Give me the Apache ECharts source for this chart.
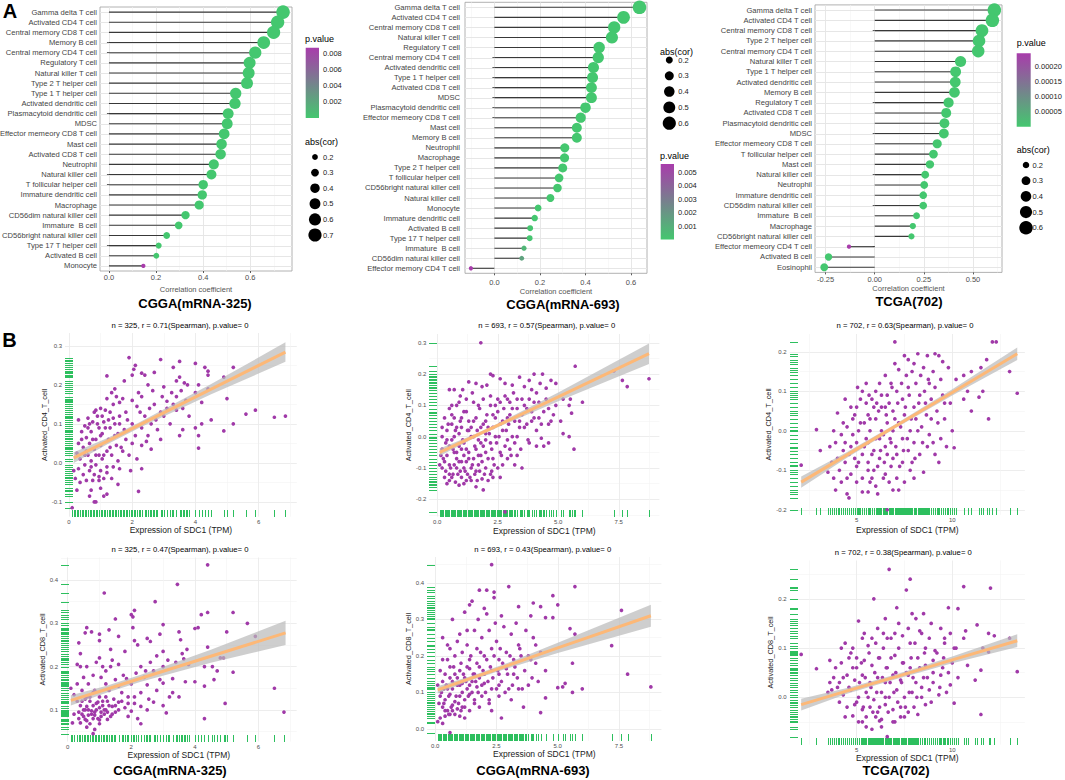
<!DOCTYPE html>
<html>
<head>
<meta charset="utf-8">
<title>SDC1 immune infiltration</title>
<script src="https://cdn.jsdelivr.net/npm/echarts@6/dist/echarts.min.js"></script>
<style>
html,body{margin:0;padding:0;background:#fff;}
#chart{width:1065px;height:780px;}
</style>
</head>
<body>
<div id="chart"></div>
<script>
(function() {
	'use strict';

	var FONT = '"Liberation Sans", Arial, sans-serif';
	var GREEN = '#44C76F', PURPLE = '#A83CAB', DOT = '#A039A8', RUG = '#2DBF5E', FIT = '#FDB877', BAND = '#B9B9B9';

	/* ---- A: lollipop data ---- */
	var cellsL = ['Gamma delta T cell', 'Activated CD4 T cell', 'Central memory CD8 T cell', 'Memory B cell', 'Central memory CD4 T cell', 'Regulatory T cell', 'Natural killer T cell', 'Type 2 T helper cell', 'Type 1 T helper cell', 'Activated dendritic cell', 'Plasmacytoid dendritic cell', 'MDSC', 'Effector memeory CD8 T cell', 'Mast cell', 'Activated CD8 T cell', 'Neutrophil', 'Natural killer cell', 'T follicular helper cell', 'Immature dendritic cell', 'Macrophage', 'CD56dim natural killer cell', 'Immature  B cell', 'CD56bright natural killer cell', 'Type 17 T helper cell', 'Activated B cell', 'Monocyte'];
	var corL = [0.739, 0.716, 0.699, 0.657, 0.621, 0.597, 0.593, 0.586, 0.538, 0.535, 0.506, 0.502, 0.489, 0.478, 0.474, 0.445, 0.435, 0.400, 0.396, 0.383, 0.325, 0.296, 0.245, 0.211, 0.201, 0.146];
	var pL = [0, 0, 0, 0, 0, 0, 0, 0, 0, 0, 0, 0, 0, 0, 0, 0, 0, 0, 0, 0, 0, 0, 0, 0.00001, 0.00002, 0.0087];

	var cellsM = ['Gamma delta T cell', 'Activated CD4 T cell', 'Central memory CD8 T cell', 'Natural killer T cell', 'Regulatory T cell', 'Central memory CD4 T cell', 'Activated dendritic cell', 'Type 1 T helper cell', 'Activated CD8 T cell', 'MDSC', 'Plasmacytoid dendritic cell', 'Effector memeory CD8 T cell', 'Mast cell', 'Memory B cell', 'Neutrophil', 'Macrophage', 'Type 2 T helper cell', 'T follicular helper cell', 'CD56bright natural killer cell', 'Natural killer cell', 'Monocyte', 'Immature dendritic cell', 'Activated B cell', 'Type 17 T helper cell', 'Immature  B cell', 'CD56dim natural killer cell', 'Effector memory CD4 T cell'];
	var corM = [0.637, 0.567, 0.526, 0.516, 0.460, 0.456, 0.435, 0.431, 0.426, 0.426, 0.400, 0.379, 0.362, 0.362, 0.309, 0.308, 0.300, 0.284, 0.277, 0.246, 0.192, 0.177, 0.157, 0.155, 0.130, 0.120, -0.103];
	var pM = [0, 0, 0, 0, 0, 0, 0, 0, 0, 0, 0, 0, 0, 0, 0, 0, 0, 0, 0, 0, 0, 0, 0.0001, 0.0001, 0.0007, 0.0015, 0.0056];

	var cellsR = ['Gamma delta T cell', 'Activated CD4 T cell', 'Central memory CD8 T cell', 'Type 2 T helper cell', 'Central memory CD4 T cell', 'Natural killer T cell', 'Type 1 T helper cell', 'Activated dendritic cell', 'Memory B cell', 'Regulatory T cell', 'Activated CD8 T cell', 'Plasmacytoid dendritic cell', 'MDSC', 'Effector memeory CD8 T cell', 'T follicular helper cell', 'Mast cell', 'Natural killer cell', 'Neutrophil', 'Immature dendritic cell', 'CD56dim natural killer cell', 'Immature  B cell', 'Macrophage', 'CD56bright natural killer cell', 'Effector memeory CD4 T cell', 'Activated B cell', 'Eosinophil'];
	var corR = [0.609, 0.599, 0.546, 0.531, 0.527, 0.437, 0.412, 0.410, 0.406, 0.376, 0.364, 0.355, 0.352, 0.318, 0.299, 0.281, 0.257, 0.252, 0.247, 0.247, 0.213, 0.194, 0.187, -0.131, -0.235, -0.257];
	var pR = [0, 0, 0, 0, 0, 0, 0, 0, 0, 0, 0, 0, 0, 0, 0, 0, 0, 0, 0, 0, 0, 0, 0, 0.000242, 0, 0];

	var sizeKeysL = [0.2, 0.3, 0.4, 0.5, 0.6, 0.7];
	var sizeKeysM = [0.2, 0.3, 0.4, 0.5, 0.6];
	var sizeKeysR = [0.2, 0.3, 0.4, 0.5, 0.6];
	var pTicksL = [0.002, 0.004, 0.006, 0.008];
	var pTicksM = [0.001, 0.002, 0.003, 0.004, 0.005];
	var pTicksR = [0.00005, 0.00010, 0.00015, 0.00020];

	/* ---- B: scatter data (SDC1 TPM, immune score) ---- */
	var ptsCD4a = [[1.9,0.27],[2.9,0.265],[3.5,0.26],[4.0,0.255],[2.1,0.25],[2.05,0.24],[4.3,0.245],[5.2,0.245],[4.4,0.235],[3.3,0.245],[2.3,0.23],[2.7,0.232],[2.4,0.225],[1.2,0.223],[4.4,0.225],[3.5,0.22],[2.0,0.225],[4.9,0.22],[1.75,0.21],[3.4,0.21],[3.65,0.205],[2.5,0.2],[4.1,0.2],[3.0,0.195],[3.75,0.2],[1.45,0.19],[4.4,0.19],[1.35,0.18],[2.2,0.18],[3.55,0.185],[4.0,0.18],[2.65,0.185],[3.25,0.18],[1.5,0.17],[2.3,0.17],[2.95,0.17],[3.4,0.17],[5.0,0.165],[1.7,0.165],[1.2,0.165],[1.6,0.155],[2.0,0.16],[3.1,0.158],[3.7,0.16],[4.2,0.155],[2.7,0.15],[1.4,0.15],[2.15,0.145],[3.6,0.14],[1.0,0.14],[0.85,0.135],[1.15,0.135],[1.3,0.13],[1.8,0.13],[2.9,0.13],[3.4,0.135],[5.9,0.135],[5.6,0.125],[6.5,0.117],[6.85,0.12],[0.6,0.115],[0.9,0.12],[1.6,0.12],[2.4,0.12],[3.0,0.12],[3.8,0.12],[4.5,0.11],[0.3,0.11],[0.75,0.105],[1.1,0.105],[1.45,0.1],[2.0,0.1],[2.6,0.1],[3.2,0.1],[4.2,0.1],[5.2,0.1],[4.0,0.09],[0.5,0.095],[0.95,0.09],[1.3,0.09],[1.75,0.085],[2.3,0.09],[2.8,0.085],[3.6,0.085],[4.9,0.082],[0.4,0.08],[0.7,0.08],[1.05,0.075],[1.55,0.075],[2.1,0.07],[2.5,0.07],[3.5,0.07],[4.1,0.07],[0.55,0.065],[0.85,0.06],[1.25,0.06],[1.8,0.06],[2.45,0.055],[2.9,0.06],[0.3,0.05],[0.65,0.05],[1.0,0.045],[1.5,0.045],[2.0,0.05],[2.3,0.045],[0.45,0.04],[0.8,0.035],[1.2,0.03],[1.7,0.03],[2.6,0.035],[4.1,0.038],[0.25,0.025],[0.6,0.02],[0.95,0.02],[1.35,0.02],[1.9,0.02],[0.35,0.01],[0.7,0.005],[1.05,0.01],[1.55,0.005],[2.15,0.01],[0.5,-0.005],[0.85,-0.005],[1.2,-0.01],[0.3,-0.015],[0.65,-0.02],[1.0,-0.02],[1.6,-0.015],[2.3,-0.015],[0.15,-0.02],[1.95,-0.02],[0.45,-0.03],[0.8,-0.03],[1.1,-0.04],[0.55,-0.045],[0.95,-0.045],[0.2,-0.04],[0.75,-0.045],[1.35,-0.04],[1.55,-0.055],[0.25,-0.07],[0.7,-0.07],[1.0,-0.065],[1.2,-0.08],[0.65,-0.085],[1.1,-0.085],[2.2,-0.073],[0.8,-0.1],[0.85,-0.1],[0.1,-0.115],
		[0.4,0.06],[0.55,0.03],[0.6,0.09],[0.7,-0.01],[0.75,0.06],[0.85,0.02],[0.9,0.1],[0.95,-0.035],[1.0,0.07],[1.1,0.02],[1.15,0.09],[1.2,-0.025],[1.25,0.11],[1.3,0.04],[1.4,-0.01],[1.45,0.07],[1.6,0.1],[1.65,0.04],[1.85,0.11],[2.25,0.13],[0.35,-0.05],[0.5,0.02],[0.65,0.1],[1.05,0.12],[1.4,0.115],[0.8,0.13],[2.55,0.14],[2.75,0.11],[3.1,0.14],[3.3,0.15]];
	var ptsCD4b = [[1.8,0.30],[5.7,0.225],[7.3,0.21],[7.65,0.18],[7.85,0.16],[8.75,0.185],[6.0,0.11],[5.5,0.12],[5.2,0.12],[5.45,0.1],[5.55,0.075],[5.1,0.05],[5.2,0.01],[5.45,0.0],[5.65,-0.04],[4.6,-0.02],[4.3,-0.005],[3.5,-0.1],[3.2,-0.09],[2.8,-0.24],[2.6,-0.13],[2.3,-0.13],[1.6,-0.16],[1.9,-0.17],[1.2,-0.14],[0.9,-0.155],[0.5,-0.12],[0.1,-0.09],[0.4,-0.15],[2.2,0.2],[2.3,0.195],[2.6,0.185],[2.8,0.17],[3.1,0.165],[3.4,0.19],[3.8,0.18],[4.0,0.2],[4.25,0.17],[4.5,0.155],[4.7,0.18],[4.9,0.17],[4.35,0.2],[1.3,0.175],[1.6,0.17],[0.7,0.15],[0.5,0.15],[1.05,0.15],[1.85,0.16],[2.05,0.165],[3.6,0.16],[3.9,0.15],[4.1,0.14],[0.5,0.09],[0.9,0.11],[1.2,0.12],[1.5,0.11],[1.9,0.12],[2.2,0.13],[2.5,0.12],[2.8,0.13],[3.0,0.11],[3.3,0.12],[3.6,0.1],[3.8,0.12],[4.2,0.11],[4.6,0.09],[4.9,0.1],[0.8,0.1],[1.7,0.1],[2.4,0.1],[3.1,0.09],[3.9,0.08],[4.4,0.08],[4.8,0.07],[0.3,0.06],[0.6,0.04],[1.0,0.06],[1.3,0.05],[1.6,0.06],[2.0,0.05],[2.3,0.07],[2.6,0.04],[2.9,0.06],[3.2,0.05],[3.5,0.07],[3.7,0.04],[4.0,0.06],[4.3,0.04],[0.8,0.03],[1.8,0.03],[2.7,0.02],[3.4,0.03],[4.1,0.02],[4.7,0.05],[0.2,0.0],[0.4,0.02],[0.6,-0.01],[0.9,0.01],[1.1,-0.02],[1.3,0.02],[1.5,0.0],[1.7,-0.01],[2.0,0.01],[2.2,-0.02],[2.4,0.0],[2.9,-0.01],[3.3,0.0],[3.8,-0.02],[4.4,-0.03],[0.7,0.0],[1.0,0.03],[1.4,0.03],[2.1,0.03],[1.9,-0.03],[3.0,-0.04],[0.2,-0.04],[0.4,-0.06],[0.5,-0.03],[0.7,-0.05],[0.8,-0.07],[1.0,-0.04],[1.1,-0.06],[1.3,-0.05],[1.5,-0.07],[1.6,-0.04],[1.8,-0.06],[2.0,-0.05],[2.3,-0.07],[2.6,-0.05],[2.9,-0.07],[3.3,-0.06],[0.3,-0.08],[0.9,-0.08],[1.2,-0.08],[1.7,-0.09],[0.2,-0.1],[0.35,-0.11],[0.5,-0.09],[0.65,-0.12],[0.8,-0.1],[0.95,-0.11],[1.1,-0.1],[1.25,-0.12],[1.4,-0.1],[1.55,-0.12],[1.75,-0.11],[2.0,-0.1],[2.2,-0.12],[2.5,-0.1],[0.6,-0.13],[1.0,-0.13],[1.4,-0.14],[0.75,-0.145],[1.85,-0.135],[2.1,-0.14],
		[0.25,-0.07],[0.35,-0.02],[0.45,0.04],[0.55,-0.1],[0.6,0.07],[0.65,-0.04],[0.7,-0.09],[0.75,0.02],[0.85,-0.12],[0.9,-0.03],[0.95,0.05],[1.0,-0.08],[1.05,-0.01],[1.1,0.08],[1.15,-0.11],[1.2,-0.04],[1.25,0.02],[1.3,-0.07],[1.35,-0.13],[1.4,0.0],[1.45,-0.09],[1.5,0.05],[1.55,-0.03],[1.6,-0.11],[1.65,0.02],[1.7,-0.06],[1.75,0.09],[1.8,-0.02],[1.85,-0.08],[1.9,0.04],[1.95,-0.12],[2.0,-0.01],[2.05,0.07],[2.1,-0.07],[2.15,0.01],[2.2,0.1],[2.25,-0.04],[2.3,0.03],[2.35,-0.09],[2.4,0.06],[2.45,-0.02],[2.5,0.08],[2.55,0.0],[2.6,0.11],[2.65,-0.06],[2.7,0.05],[2.75,0.09],[2.8,-0.03],[2.85,0.02],[2.9,0.12],[2.95,0.04],[3.0,0.07],[3.1,0.0],[3.15,0.14],[3.2,-0.02],[3.3,0.09],[3.4,0.05],[3.45,-0.04],[3.5,0.12],[3.6,0.03],[3.7,0.09],[3.75,-0.01],[3.9,0.05],[4.0,0.11],[4.1,-0.03],[4.2,0.06],[4.5,0.12],[4.6,0.04],[0.3,-0.13],[0.5,-0.14],[0.8,-0.05],[1.1,-0.15],[0.4,-0.01],[0.6,0.1],[0.95,0.13],[1.45,0.14],[1.2,0.08],[0.7,0.06],[1.65,-0.14],[2.25,-0.11],[2.7,-0.09],[3.05,-0.06],[0.15,-0.06],[0.2,0.03]];
	var ptsCD4c = [[2.1,-0.087],[2.9,0.003],[3.1,-0.05],[7.0,0.225],[12.1,0.225],[12.3,0.225],[13.0,0.15],[13.4,0.095],[11.9,0.03],[11.8,0.18],[10.1,-0.043],[8.5,-0.105],[6.6,-0.2],[3.5,-0.105],[3.9,-0.15],[4.5,-0.16],[4.6,-0.17],[5.3,-0.155],[6.1,-0.16],[5.6,-0.155],[7.5,0.19],[7.7,0.18],[8.2,0.195],[8.7,0.19],[9.1,0.195],[9.3,0.19],[9.5,0.175],[8.0,0.17],[7.0,0.17],[6.5,0.14],[7.2,0.155],[8.5,0.16],[9.0,0.15],[9.8,0.16],[10.6,0.14],[11.0,0.15],[11.5,0.16],[10.2,0.13],[6.8,0.12],[5.5,0.12],[8.8,0.12],[10.8,0.1],[11.6,0.1],[11.4,0.085],[10.6,0.08],[11.0,0.05],[9.5,0.09],[9.9,0.07],[4.0,0.045],[4.4,0.08],[4.8,0.03],[5.0,0.06],[5.3,0.1],[5.6,0.04],[5.8,0.08],[6.0,0.1],[6.3,0.06],[6.6,0.09],[6.9,0.05],[7.1,0.1],[7.4,0.08],[7.7,0.11],[8.0,0.06],[8.3,0.09],[8.6,0.07],[8.9,0.03],[9.2,0.05],[9.6,0.03],[10.0,0.0],[9.4,-0.02],[8.8,-0.01],[8.4,0.01],[8.1,0.03],[7.8,0.0],[7.5,0.04],[7.2,0.02],[6.9,0.0],[6.6,0.02],[6.3,0.0],[6.0,0.03],[5.7,0.0],[5.4,0.02],[5.1,0.0],[4.8,-0.01],[4.5,0.01],[4.2,-0.01],[3.9,-0.03],[3.6,-0.04],[4.3,-0.05],[4.7,-0.04],[5.0,-0.03],[5.3,-0.06],[5.6,-0.03],[5.9,-0.05],[6.2,-0.02],[6.5,-0.04],[6.8,-0.03],[7.1,-0.06],[7.4,-0.02],[7.7,-0.05],[8.0,-0.03],[8.3,-0.06],[8.7,-0.04],[9.1,-0.06],[3.7,-0.08],[4.1,-0.1],[4.4,-0.08],[4.7,-0.11],[5.0,-0.09],[5.3,-0.12],[5.6,-0.08],[5.9,-0.1],[6.2,-0.07],[6.5,-0.11],[6.8,-0.09],[7.1,-0.12],[7.4,-0.08],[7.8,-0.1],[6.0,-0.14],[5.0,-0.13],[6.9,-0.15],[4.2,-0.13],[3.8,-0.12],[5.7,-0.13],[6.4,-0.12],[7.5,-0.13],
		[4.6,-0.06],[4.9,0.04],[5.1,-0.08],[5.2,0.02],[5.4,-0.04],[5.5,0.07],[5.6,-0.1],[5.7,0.03],[5.8,-0.06],[5.9,0.06],[6.0,-0.02],[6.1,-0.09],[6.15,0.05],[6.25,-0.05],[6.3,0.09],[6.4,-0.01],[6.45,-0.08],[6.55,0.04],[6.6,-0.06],[6.7,0.07],[6.75,-0.02],[6.85,0.11],[6.9,-0.07],[7.0,0.03],[7.05,-0.04],[7.15,0.07],[7.25,-0.09],[7.3,0.01],[7.35,0.12],[7.45,-0.05],[7.55,0.06],[7.6,0.14],[7.65,-0.02],[7.75,0.09],[7.85,0.03],[7.9,0.15],[8.05,-0.07],[8.1,0.12],[8.2,0.0],[8.25,0.07],[8.35,0.14],[8.45,-0.03],[8.55,0.1],[8.65,0.04],[8.75,0.13],[8.9,0.08],[9.0,-0.03],[9.1,0.11],[9.25,0.02],[9.4,0.13],[9.6,0.07],[9.7,-0.04],[4.3,0.02],[4.5,-0.12],[4.7,0.06],[4.9,-0.07],[5.2,0.08],[5.5,-0.02],[5.8,-0.12],[6.2,0.12],[6.5,0.06],[6.7,-0.13],[7.2,-0.15],[7.9,-0.08],[8.0,-0.12],[9.3,-0.08],[3.8,0.0],[4.0,-0.07],[4.4,-0.03],[5.05,0.11],[5.65,0.09],[6.05,0.07]];
	var ptsCD8a = [[4.4,0.435],[3.45,0.39],[1.15,0.37],[2.75,0.35],[2.1,0.33],[2.0,0.32],[2.05,0.315],[4.4,0.325],[4.2,0.32],[5.2,0.325],[1.5,0.31],[0.6,0.29],[3.0,0.297],[5.65,0.3],[4.1,0.29],[4.0,0.288],[2.05,0.29],[1.3,0.285],[0.55,0.278],[5.0,0.28],[3.5,0.28],[0.75,0.28],[1.0,0.275],[1.6,0.27],[2.5,0.265],[2.9,0.275],[5.9,0.27],[3.55,0.262],[2.1,0.26],[2.6,0.258],[1.0,0.26],[0.35,0.255],[4.4,0.245],[3.75,0.24],[2.2,0.25],[1.35,0.24],[3.0,0.235],[0.4,0.23],[1.8,0.235],[3.6,0.23],[4.9,0.22],[2.8,0.225],[1.0,0.22],[1.4,0.215],[0.9,0.21],[2.6,0.21],[3.15,0.215],[3.4,0.21],[3.65,0.218],[0.3,0.205],[0.4,0.2],[0.6,0.2],[1.1,0.2],[1.35,0.2],[1.6,0.205],[2.3,0.2],[3.0,0.2],[3.8,0.205],[4.3,0.2],[4.55,0.2],[4.8,0.22],[1.2,0.19],[1.75,0.18],[2.15,0.185],[2.45,0.19],[2.7,0.19],[4.7,0.19],[5.2,0.187],[0.5,0.175],[0.8,0.18],[1.05,0.175],[1.5,0.17],[1.85,0.172],[2.4,0.175],[2.9,0.17],[3.3,0.172],[4.6,0.17],[0.3,0.16],[0.65,0.16],[1.2,0.16],[1.6,0.155],[2.0,0.16],[2.5,0.158],[3.0,0.162],[3.7,0.165],[4.0,0.165],[4.3,0.155],[6.5,0.15],[0.1,0.15],[0.45,0.145],[0.85,0.145],[1.3,0.145],[1.7,0.14],[2.3,0.14],[2.8,0.145],[3.3,0.14],[0.2,0.135],[0.6,0.13],[1.0,0.13],[1.45,0.125],[1.9,0.13],[2.55,0.125],[3.2,0.13],[3.5,0.13],[0.3,0.12],[0.7,0.12],[0.95,0.118],[1.25,0.12],[1.6,0.118],[2.1,0.115],[2.7,0.118],[4.95,0.115],[0.4,0.11],[0.6,0.108],[0.8,0.11],[1.0,0.105],[1.1,0.11],[1.4,0.108],[1.8,0.105],[2.3,0.108],[3.0,0.11],[0.5,0.1],[0.75,0.098],[0.9,0.1],[1.05,0.095],[1.2,0.1],[1.5,0.095],[2.0,0.097],[2.5,0.1],[3.1,0.093],[6.8,0.095],[0.2,0.09],[0.45,0.09],[0.65,0.088],[0.85,0.088],[1.15,0.09],[1.35,0.085],[1.9,0.085],[0.35,0.08],[0.55,0.078],[0.8,0.08],[1.0,0.077],[1.25,0.078],[2.2,0.08],[4.3,0.08],[0.15,0.07],[0.4,0.07],[0.7,0.068],[1.0,0.068],[2.3,0.068],[0.6,0.06],[0.85,0.055],[0.8,0.045],
		[0.45,0.12],[0.55,0.1],[0.7,0.13],[0.75,0.09],[0.9,0.115],[0.95,0.08],[1.1,0.12],[1.15,0.1],[1.3,0.11],[1.4,0.09],[0.65,0.1],[0.85,0.095],[1.05,0.085],[1.25,0.095],[0.5,0.085],[1.6,0.1],[1.7,0.12],[0.35,0.095],[1.9,0.115],[2.1,0.13],[0.55,0.125],[0.8,0.14],[1.2,0.13],[0.6,0.075],[1.5,0.11]];
	var ptsCD8b = [[2.3,0.45],[5.7,0.39],[3.0,0.39],[1.8,0.38],[2.1,0.38],[2.4,0.375],[4.8,0.365],[2.4,0.36],[1.5,0.35],[4.0,0.345],[5.0,0.34],[4.3,0.335],[1.4,0.34],[3.4,0.335],[7.6,0.325],[2.0,0.33],[1.2,0.32],[2.7,0.31],[4.5,0.305],[4.8,0.305],[3.9,0.31],[0.7,0.3],[2.1,0.315],[5.5,0.275],[5.7,0.26],[7.2,0.228],[5.6,0.18],[7.85,0.15],[5.2,0.115],[5.0,0.113],[5.3,0.125],[5.6,0.1],[6.0,0.11],[8.8,0.115],[4.5,0.085],[4.3,0.045],[3.6,0.06],[2.7,0.03],[0.6,-0.01],[3.4,0.11],[3.8,0.12],[4.2,0.13],[4.5,0.16],[4.1,0.18],[0.3,0.25],[0.6,0.22],[1.0,0.26],[1.3,0.23],[1.6,0.27],[1.9,0.25],[2.2,0.27],[2.5,0.24],[2.8,0.28],[3.1,0.26],[3.4,0.23],[3.7,0.27],[4.0,0.25],[0.5,0.19],[0.8,0.2],[1.1,0.21],[1.4,0.19],[1.7,0.22],[2.0,0.2],[2.3,0.22],[2.6,0.19],[2.9,0.21],[3.2,0.19],[3.5,0.2],[3.9,0.19],[4.3,0.21],[0.2,0.16],[0.4,0.15],[0.6,0.17],[0.8,0.15],[1.0,0.16],[1.2,0.14],[1.4,0.165],[1.6,0.15],[1.8,0.17],[2.0,0.15],[2.3,0.16],[2.6,0.15],[2.9,0.165],[3.2,0.15],[0.1,0.12],[0.3,0.13],[0.5,0.11],[0.7,0.13],[0.9,0.12],[1.1,0.125],[1.3,0.11],[1.5,0.13],[1.7,0.115],[2.0,0.125],[2.3,0.11],[2.6,0.12],[3.0,0.11],[0.2,0.09],[0.4,0.08],[0.6,0.095],[0.8,0.075],[1.0,0.09],[1.2,0.08],[1.4,0.095],[1.6,0.08],[1.9,0.09],[2.2,0.08],[2.6,0.09],[3.1,0.08],[0.3,0.06],[0.5,0.05],[0.7,0.065],[0.9,0.055],[1.1,0.06],[1.4,0.05],[1.8,0.06],[2.3,0.05],[0.2,0.03],[0.4,0.035],[0.6,0.04],[1.0,0.035],[0.3,0.015],[0.1,0.02],
		[0.25,0.1],[0.35,0.07],[0.45,0.12],[0.55,0.09],[0.6,0.14],[0.65,0.06],[0.7,0.11],[0.75,0.17],[0.85,0.09],[0.9,0.14],[0.95,0.07],[1.0,0.12],[1.05,0.18],[1.1,0.1],[1.15,0.15],[1.2,0.06],[1.25,0.13],[1.3,0.17],[1.35,0.09],[1.4,0.12],[1.45,0.2],[1.5,0.1],[1.55,0.15],[1.6,0.07],[1.65,0.13],[1.7,0.18],[1.75,0.1],[1.8,0.14],[1.85,0.21],[1.9,0.12],[1.95,0.16],[2.05,0.1],[2.1,0.19],[2.15,0.13],[2.2,0.07],[2.25,0.17],[2.35,0.14],[2.4,0.2],[2.5,0.11],[2.55,0.16],[2.65,0.22],[2.7,0.13],[2.75,0.18],[2.85,0.1],[2.95,0.15],[3.05,0.2],[3.15,0.12],[3.25,0.17],[3.35,0.14],[3.45,0.22],[3.55,0.11],[3.65,0.16],[3.8,0.2],[3.95,0.14],[4.1,0.23],[0.4,0.05],[0.55,0.04],[0.8,0.04],[1.2,0.03],[0.15,0.07],[0.3,0.19],[0.5,0.23],[0.9,0.24],[1.3,0.27],[1.75,0.3],[2.45,0.29],[3.3,0.29],[0.7,0.05],[1.05,0.05],[0.35,0.11]];
	var ptsCD8c = [[6.7,0.26],[7.8,0.24],[7.6,0.218],[10.6,0.225],[12.0,0.222],[5.9,0.2],[9.8,0.182],[10.3,0.18],[7.1,0.182],[2.1,0.087],[2.9,0.058],[13.4,0.052],[13.0,0.12],[12.2,0.125],[11.9,0.13],[11.3,0.147],[10.7,0.135],[11.9,0.092],[11.6,0.1],[11.5,-0.035],[11.2,0.035],[10.3,0.04],[10.1,-0.012],[8.2,-0.035],[6.6,-0.08],[5.8,-0.065],[5.3,-0.05],[3.5,0.01],[4.8,-0.038],[6.2,-0.048],[7.0,-0.05],[6.5,0.16],[7.2,0.15],[5.1,0.155],[7.9,0.17],[8.1,0.16],[8.5,0.17],[8.9,0.15],[9.4,0.14],[8.3,0.135],[9.9,0.13],[10.6,0.12],[10.2,0.1],[9.6,0.11],[4.4,0.11],[4.8,0.1],[5.3,0.12],[5.6,0.105],[6.0,0.11],[6.4,0.13],[6.8,0.12],[7.4,0.125],[7.8,0.11],[8.6,0.1],[9.1,0.095],[3.6,0.075],[4.2,0.07],[4.6,0.08],[5.0,0.06],[5.4,0.075],[5.8,0.065],[6.2,0.08],[6.6,0.06],[7.0,0.085],[7.4,0.07],[7.8,0.06],[8.2,0.08],[8.6,0.065],[9.0,0.075],[9.5,0.06],[10.0,0.07],[10.8,0.065],[11.5,0.055],[3.8,0.04],[4.1,0.03],[4.5,0.045],[4.9,0.035],[5.3,0.045],[5.7,0.03],[6.1,0.04],[6.5,0.03],[6.9,0.045],[7.3,0.035],[7.7,0.045],[8.1,0.03],[8.5,0.04],[9.0,0.03],[9.4,0.045],[9.9,0.025],[3.7,0.015],[4.3,0.005],[4.7,0.015],[5.1,0.0],[5.5,0.01],[5.9,-0.005],[6.3,0.01],[6.7,0.0],[7.1,0.015],[7.5,0.0],[7.9,0.01],[8.4,0.0],[8.8,0.015],[9.3,0.005],[9.7,0.01],[4.5,-0.02],[4.9,-0.015],[5.3,-0.025],[5.7,-0.02],[6.1,-0.03],[6.5,-0.015],[6.9,-0.025],[7.3,-0.02],[7.7,-0.03],[5.5,-0.04],[6.3,-0.045],[7.5,-0.04],[4.1,-0.01],[8.6,-0.015],
		[4.6,0.02],[4.8,0.06],[5.0,-0.01],[5.15,0.03],[5.25,0.07],[5.35,-0.02],[5.45,0.04],[5.6,0.0],[5.65,0.09],[5.75,0.02],[5.85,-0.03],[5.95,0.05],[6.05,0.01],[6.15,0.08],[6.2,-0.02],[6.35,0.04],[6.4,0.1],[6.5,0.0],[6.55,0.06],[6.65,-0.03],[6.75,0.03],[6.8,0.08],[6.95,0.01],[7.05,0.05],[7.15,-0.01],[7.2,0.1],[7.35,0.03],[7.45,0.07],[7.55,-0.02],[7.6,0.05],[7.75,0.01],[7.85,0.08],[7.95,0.04],[8.05,0.11],[8.15,0.0],[8.3,0.06],[8.4,0.02],[8.55,0.09],[8.7,0.04],[8.8,0.12],[9.0,0.05],[9.2,0.09],[9.35,0.02],[9.55,0.08],[9.8,0.05],[10.1,0.1],[4.3,0.04],[4.4,-0.04],[4.7,0.09],[5.0,0.08],[5.1,-0.05],[5.5,-0.06],[5.8,0.12],[6.0,-0.04],[6.3,-0.06],[6.6,0.12],[6.9,-0.05],[7.0,0.13],[7.3,-0.04],[7.7,0.14],[8.0,-0.02],[8.4,0.13],[8.9,-0.01],[9.6,0.12],[3.9,0.06],[4.0,0.02],[4.2,0.1],[3.6,0.03],[6.1,0.14],[5.4,0.13]];

	// fitted line and its confidence band, read at a few x positions
	var fitX1 = [0.15, 1.2, 2.2, 4.5, 6.85], fitY1 = [0.013, 0.055, 0.096, 0.189, 0.284], loY1 = [0.0, 0.047, 0.089, 0.176, 0.259], hiY1 = [0.027, 0.063, 0.103, 0.202, 0.309];
	var fitX2 = [0.1, 1.5, 2.5, 5.0, 8.75], fitY2 = [-0.05, 0.0, 0.036, 0.127, 0.265], loY2 = [-0.062, -0.006, 0.03, 0.113, 0.232], hiY2 = [-0.038, 0.006, 0.042, 0.141, 0.298];
	var fitX3 = [2.1, 4.5, 7.0, 10.0, 13.4], fitY3 = [-0.13, -0.061, 0.011, 0.097, 0.195], loY3 = [-0.144, -0.068, 0.006, 0.089, 0.179], hiY3 = [-0.116, -0.054, 0.016, 0.105, 0.211];
	var fitX4 = [0.1, 1.2, 2.3, 4.5, 6.85], fitY4 = [0.122, 0.147, 0.173, 0.224, 0.278], loY4 = [0.11, 0.139, 0.165, 0.209, 0.25], hiY4 = [0.134, 0.155, 0.181, 0.239, 0.306];
	var fitX5 = [0.1, 1.5, 2.8, 5.0, 8.8], fitY5 = [0.107, 0.14, 0.17, 0.222, 0.31], loY5 = [0.097, 0.134, 0.163, 0.208, 0.28], hiY5 = [0.117, 0.146, 0.177, 0.236, 0.34];
	var fitX6 = [2.1, 4.5, 7.0, 10.0, 13.4], fitY6 = [-0.015, 0.013, 0.041, 0.076, 0.115], loY6 = [-0.027, 0.007, 0.036, 0.069, 0.102], hiY6 = [-0.003, 0.019, 0.046, 0.083, 0.128];

	var grids = [], xAxes = [], yAxes = [], series = [], vmaps = [], texts = [];

	function addGrid(g) {
		grids.push(Object.assign({show: false, outerBoundsMode: 'none', containLabel: false}, g));
		return grids.length - 1;
	}

	function fmt(d) {
		return function(v) { return (+v).toFixed(d); };
	}

	// snap a 1px line to the pixel grid so it stays crisp
	function crisp(v) {
		return Math.round(v) + 0.5;
	}

	// major axis (labels, ticks, grid) + hidden twin axis that only draws the minor grid
	function valueAxes(list, gi, o) {
		var idx = list.length;
		list.push({
			type: 'value', gridIndex: gi, min: o.min, max: o.max, position: o.position,
			name: o.name, nameLocation: 'middle', nameGap: o.nameGap, nameRotate: o.nameRotate,
			nameTextStyle: {fontFamily: FONT, fontSize: o.nameSize || 7.5, color: o.nameColor || '#1a1a1a'},
			axisLine: {show: false},
			axisTick: {show: !!o.tick, length: 2, lineStyle: {color: '#333', width: 0.8}, customValues: o.majors},
			axisLabel: {customValues: o.majors, formatter: fmt(o.dec), fontFamily: FONT, fontSize: o.labelSize || 6, color: '#4D4D4D', margin: o.margin},
			splitLine: {show: true, lineStyle: {color: o.gridColor || '#EBEBEB', width: 0.9}}
		});
		list.push({
			type: 'value', gridIndex: gi, min: o.min, max: o.max,
			axisLine: {show: false}, axisLabel: {show: false},
			axisTick: {show: false, customValues: o.minors},
			splitLine: {show: true, lineStyle: {color: '#F3F3F3', width: 0.6}}
		});
		return idx;
	}

	// area-proportional size scale like ggplot's scale_size
	function sizeScale(vals) {
		var a = vals.map(Math.abs);
		var lo = Math.min.apply(null, a), hi = Math.max.apply(null, a);
		var d0 = 4.3, d1 = 13.6;
		return function(v) {
			var t = (Math.abs(v) - lo) / (hi - lo);
			return Math.sqrt(d0 * d0 + (d1 * d1 - d0 * d0) * t);
		};
	}

	function text(x, y, s, size, extra) {
		texts.push({
			type: 'text', x: x, y: y, silent: true,
			style: Object.assign({text: s, fontFamily: FONT, fontSize: size, fill: '#000', align: 'center', verticalAlign: 'middle'}, extra || {})
		});
	}

	function colorBar(o) {
		var gi = addGrid({left: o.left, top: o.top, width: o.width, height: o.height});
		var xi = xAxes.length;
		xAxes.push({type: 'value', gridIndex: gi, min: 0, max: 1, show: false});
		var yi = yAxes.length;
		yAxes.push({
			type: 'value', gridIndex: gi, min: 0, max: o.max, position: 'right',
			axisLine: {show: false}, splitLine: {show: false},
			axisTick: {show: true, inside: true, length: 3, lineStyle: {color: '#fff', width: 0.8}, customValues: o.ticks},
			axisLabel: {customValues: o.ticks, formatter: fmt(o.dec), fontFamily: FONT, fontSize: 7.5, color: '#222', margin: 4}
		});
		series.push({
			type: 'custom', xAxisIndex: xi, yAxisIndex: yi, silent: true, z: 1,
			data: [[0, 0, o.max]],
			renderItem: function(params, api) {
				var top = api.coord([0, api.value(2)]);
				var bot = api.coord([0, api.value(1)]);
				var cs = params.coordSys;
				return {
					type: 'rect',
					shape: {x: cs.x, y: top[1], width: cs.width, height: bot[1] - top[1]},
					style: {fill: new echarts.graphic.LinearGradient(0, 0, 0, 1, [{offset: 0, color: PURPLE}, {offset: 1, color: GREEN}])}
				};
			}
		});
	}

	function sizeLegend(o, size) {
		var gi = addGrid({left: o.left, top: o.top, width: o.width, height: o.height});
		var xi = xAxes.length;
		xAxes.push({type: 'value', gridIndex: gi, min: -1, max: 1, show: false});
		var yi = yAxes.length;
		yAxes.push({
			type: 'category', gridIndex: gi, position: 'right', inverse: true, data: o.vals.map(String),
			axisLine: {show: false}, axisTick: {show: false}, splitLine: {show: false},
			axisLabel: {interval: 0, fontFamily: FONT, fontSize: 7.5, color: '#222', margin: o.margin}
		});
		series.push({
			type: 'scatter', xAxisIndex: xi, yAxisIndex: yi, silent: true,
			data: o.vals.map(function(v, i) { return [0, i, v]; }),
			symbolSize: function(d) { return size(d[2]); },
			itemStyle: {color: '#000', opacity: 1}
		});
	}

	function lollipop(o) {
		var gi = addGrid({show: true, left: o.left, top: o.top, width: o.width, height: o.height, borderColor: '#9E9E9E', borderWidth: 0.8, backgroundColor: '#fff'});
		var xi = valueAxes(xAxes, gi, {
			min: o.min, max: o.max, majors: o.majors, minors: o.minors, dec: o.dec, tick: true,
			name: 'Correlation coefficient', nameGap: o.nameGap, nameColor: '#555', labelSize: 7.5, margin: o.margin, gridColor: '#E4E4E4'
		});
		var yi = yAxes.length;
		yAxes.push({
			type: 'category', gridIndex: gi, data: o.cells, inverse: true,
			axisLine: {show: false},
			axisTick: {show: true, alignWithLabel: true, length: 2, lineStyle: {color: '#333', width: 0.8}},
			axisLabel: {interval: 0, fontFamily: FONT, fontSize: 7.6, color: '#444', margin: o.labelMargin},
			splitLine: {show: false}
		});
		var size = sizeScale(o.cor);
		// horizontal grid line on every row
		series.push({
			type: 'custom', xAxisIndex: xi, yAxisIndex: yi, silent: true, z: 1,
			data: o.cells.map(function(c, i) { return [0, i]; }),
			renderItem: function(params, api) {
				var y = crisp(api.coord([0, api.value(1)])[1]);
				var cs = params.coordSys;
				return {type: 'line', shape: {x1: cs.x, y1: y, x2: cs.x + cs.width, y2: y}, style: {stroke: '#E6E6E6', lineWidth: 1}};
			}
		});
		series.push({type: 'bar', xAxisIndex: xi, yAxisIndex: yi, data: o.cor, barWidth: 1.1, silent: true, z: 2, itemStyle: {color: '#383838'}});
		var si = series.length;
		series.push({
			type: 'scatter', xAxisIndex: xi, yAxisIndex: yi, silent: true, z: 3,
			data: o.cor.map(function(v, i) { return [v, i, o.p[i]]; }),
			symbolSize: function(d) { return size(d[0]); },
			itemStyle: {opacity: 1}
		});
		vmaps.push({type: 'continuous', show: false, seriesIndex: si, dimension: 2, min: 0, max: o.pMax, inRange: {color: [GREEN, PURPLE]}});
		colorBar(o.bar);
		sizeLegend(o.keys, size);
		text(o.bar.titleX, o.bar.titleY, 'p.value', 9, {align: 'left'});
		text(o.keys.titleX, o.keys.titleY, 'abs(cor)', 9, {align: 'left'});
		text(o.titleX, o.titleY, o.title, 13, {fontWeight: 'bold'});
	}

	function scatterPanel(o) {
		var gi = addGrid({left: o.left, top: o.top, width: o.width, height: o.height});
		var xi = valueAxes(xAxes, gi, {
			min: o.xMin, max: o.xMax, majors: o.xMajors, minors: o.xMinors, dec: o.xDec,
			name: 'Expression of SDC1 (TPM)', nameGap: o.xNameGap, nameSize: 8.5, margin: 2
		});
		var yi = valueAxes(yAxes, gi, {
			min: o.yMin, max: o.yMax, majors: o.yMajors, minors: o.yMinors, dec: o.yDec, position: 'left',
			name: o.yName, nameGap: o.yNameGap, nameRotate: 90, nameSize: 7.3, margin: 3
		});
		// marginal rugs along the bottom and left edges of the panel
		series.push({
			type: 'custom', xAxisIndex: xi, yAxisIndex: yi, silent: true, z: 2,
			data: o.pts,
			renderItem: function(params, api) {
				var cs = params.coordSys;
				var pt = api.coord([api.value(0), api.value(1)]);
				var bottom = Math.round(cs.y + cs.height);
				var left = Math.round(cs.x);
				var px = crisp(pt[0]), py = crisp(pt[1]);
				return {
					type: 'group',
					children: [
						{type: 'line', shape: {x1: px, y1: bottom, x2: px, y2: bottom - 7}, style: {stroke: RUG, lineWidth: 1}},
						{type: 'line', shape: {x1: left, y1: py, x2: left + 8, y2: py}, style: {stroke: RUG, lineWidth: 1}}
					]
				};
			}
		});
		series.push({
			type: 'scatter', xAxisIndex: xi, yAxisIndex: yi, silent: true, z: 3,
			data: o.pts, symbolSize: 3.7, itemStyle: {color: DOT, opacity: 1}
		});
		series.push({
			type: 'custom', xAxisIndex: xi, yAxisIndex: yi, silent: true, z: 4,
			data: [[o.fitX[0], o.fitY[0]]],
			renderItem: function(params, api) {
				var up = o.fitX.map(function(x, i) { return api.coord([x, o.hi[i]]); });
				var dn = o.fitX.map(function(x, i) { return api.coord([x, o.lo[i]]); }).reverse();
				return {type: 'polygon', shape: {points: up.concat(dn)}, style: {fill: BAND, opacity: 0.7}};
			}
		});
		series.push({
			type: 'line', xAxisIndex: xi, yAxisIndex: yi, silent: true, z: 5, symbol: 'none',
			data: o.fitX.map(function(x, i) { return [x, o.fitY[i]]; }),
			lineStyle: {color: FIT, width: 3}
		});
		text(o.subX, o.subY, o.sub, 7.7);
		if (o.title) {
			text(o.titleX, o.titleY, o.title, 13, {fontWeight: 'bold'});
		}
	}

	/* ---- panel A ---- */
	lollipop({
		left: 100, top: 7, width: 192, height: 264, min: -0.038, max: 0.777,
		majors: [0, 0.2, 0.4, 0.6], minors: [0.1, 0.3, 0.5, 0.7], dec: 1, margin: 2, nameGap: 14, labelMargin: 3,
		cells: cellsL, cor: corL, p: pL, pMax: 0.0087,
		bar: {left: 305.7, top: 47.7, width: 13.3, height: 70.3, max: 0.0087, ticks: pTicksL, dec: 3, titleX: 305, titleY: 39},
		keys: {left: 309, top: 149.2, width: 12, height: 93.6, vals: sizeKeysL, margin: 2, titleX: 305, titleY: 142},
		title: 'CGGA(mRNA-325)', titleX: 195, titleY: 303
	});
	lollipop({
		left: 465, top: 2.3, width: 182, height: 271, min: -0.129, max: 0.67,
		majors: [0, 0.2, 0.4, 0.6], minors: [-0.1, 0.1, 0.3, 0.5], dec: 1, margin: 5, nameGap: 14, labelMargin: 5,
		cells: cellsM, cor: corM, p: pM, pMax: 0.0056,
		bar: {left: 660.7, top: 164, width: 13.3, height: 75.6, max: 0.0056, ticks: pTicksM, dec: 3, titleX: 660, titleY: 156},
		keys: {left: 663.3, top: 52.1, width: 12, height: 79, vals: sizeKeysM, margin: 3, titleX: 660, titleY: 51.7},
		title: 'CGGA(mRNA-693)', titleX: 563, titleY: 304
	});
	lollipop({
		left: 815, top: 4.9, width: 187, height: 267.5, min: -0.304, max: 0.648,
		majors: [-0.25, 0, 0.25, 0.5], minors: [-0.125, 0.125, 0.375, 0.625], dec: 2, margin: 3, nameGap: 10.5, labelMargin: 3,
		cells: cellsR, cor: corR, p: pR, pMax: 0.000242,
		bar: {left: 1016.7, top: 53.3, width: 14, height: 73.5, max: 0.000242, ticks: pTicksR, dec: 5, titleX: 1016.7, titleY: 43.3},
		keys: {left: 1021, top: 157.2, width: 10, height: 78.4, vals: sizeKeysR, margin: 1.5, titleX: 1016.7, titleY: 150},
		title: 'TCGA(702)', titleX: 909, titleY: 301.7
	});

	/* ---- panel B ---- */
	scatterPanel({
		left: 65, top: 333, width: 231.8, height: 183.7, xMin: -0.127, xMax: 7.21, yMin: -0.138, yMax: 0.333,
		xMajors: [0, 2, 4, 6], xMinors: [1, 3, 5, 7], xDec: 0, yMajors: [-0.1, 0, 0.1, 0.2, 0.3], yMinors: [-0.05, 0.05, 0.15, 0.25], yDec: 1,
		xNameGap: 9, yName: 'Activated_CD4_T_cell', yNameGap: 12.5,
		pts: ptsCD4a, fitX: fitX1, fitY: fitY1, lo: loY1, hi: hiY1,
		sub: 'n = 325, r = 0.71(Spearman), p.value= 0', subX: 180, subY: 325
	});
	scatterPanel({
		left: 429.3, top: 334, width: 230.1, height: 182.5, xMin: -0.33, xMax: 9.18, yMin: -0.255, yMax: 0.328,
		xMajors: [0, 2.5, 5, 7.5], xMinors: [1.25, 3.75, 6.25, 8.75], xDec: 1, yMajors: [-0.2, -0.1, 0, 0.1, 0.2, 0.3], yMinors: [-0.25, -0.15, -0.05, 0.05, 0.15, 0.25], yDec: 1,
		xNameGap: 10, yName: 'Activated_CD4_T_cell', yNameGap: 15,
		pts: ptsCD4b, fitX: fitX2, fitY: fitY2, lo: loY2, hi: hiY2,
		sub: 'n = 693, r = 0.57(Spearman), p.value= 0', subX: 546.7, subY: 325
	});
	scatterPanel({
		left: 789.7, top: 334, width: 235.2, height: 180.9, xMin: 1.5, xMax: 13.8, yMin: -0.213, yMax: 0.245,
		xMajors: [5, 10], xMinors: [2.5, 7.5, 12.5], xDec: 0, yMajors: [-0.2, -0.1, 0, 0.1, 0.2], yMinors: [-0.15, -0.05, 0.05, 0.15], yDec: 1,
		xNameGap: 10.5, yName: 'Activated_CD4_T_cell', yNameGap: 13.5,
		pts: ptsCD4c, fitX: fitX3, fitY: fitY3, lo: loY3, hi: hiY3,
		sub: 'n = 702, r = 0.63(Spearman), p.value= 0', subX: 905, subY: 325
	});
	scatterPanel({
		left: 61, top: 557.5, width: 235.7, height: 184, xMin: -0.21, xMax: 7.2, yMin: 0.027, yMax: 0.452,
		xMajors: [0, 2, 4, 6], xMinors: [1, 3, 5, 7], xDec: 0, yMajors: [0.1, 0.2, 0.3, 0.4], yMinors: [0.05, 0.15, 0.25, 0.35, 0.45], yDec: 1,
		xNameGap: 6.5, yName: 'Activated_CD8_T_cell', yNameGap: 10,
		pts: ptsCD8a, fitX: fitX4, fitY: fitY4, lo: loY4, hi: hiY4,
		sub: 'n = 325, r = 0.47(Spearman), p.value= 0', subX: 180, subY: 549.3,
		title: 'CGGA(mRNA-325)', titleX: 170, titleY: 770
	});
	scatterPanel({
		left: 427.2, top: 557, width: 234.2, height: 184, xMin: -0.33, xMax: 9.23, yMin: -0.033, yMax: 0.471,
		xMajors: [0, 2.5, 5, 7.5], xMinors: [1.25, 3.75, 6.25, 8.75], xDec: 1, yMajors: [0, 0.1, 0.2, 0.3, 0.4], yMinors: [0.05, 0.15, 0.25, 0.35, 0.45], yDec: 1,
		xNameGap: 8, yName: 'Activated_CD8_T_cell', yNameGap: 12.5,
		pts: ptsCD8b, fitX: fitX5, fitY: fitY5, lo: loY5, hi: hiY5,
		sub: 'n = 693, r = 0.43(Spearman), p.value= 0', subX: 542.7, subY: 549.3,
		title: 'CGGA(mRNA-693)', titleX: 533, titleY: 770
	});
	scatterPanel({
		left: 789.7, top: 560.5, width: 235.2, height: 184, xMin: 1.5, xMax: 13.8, yMin: -0.096, yMax: 0.278,
		xMajors: [5, 10], xMinors: [2.5, 7.5, 12.5], xDec: 0, yMajors: [0, 0.1, 0.2], yMinors: [-0.05, 0.05, 0.15, 0.25], yDec: 1,
		xNameGap: 8, yName: 'Activated_CD8_T_cell', yNameGap: 13.5,
		pts: ptsCD8c, fitX: fitX6, fitY: fitY6, lo: loY6, hi: hiY6,
		sub: 'n = 702, r = 0.38(Spearman), p.value= 0', subX: 903.3, subY: 552.7,
		title: 'TCGA(702)', titleX: 896, titleY: 770
	});

	text(10, 11, 'A', 20, {fontWeight: 'bold'});
	text(9.5, 340, 'B', 20, {fontWeight: 'bold'});

	var chart = echarts.init(document.getElementById('chart'), null, {renderer: 'svg'});
	chart.setOption({
		animation: false,
		backgroundColor: '#fff',
		textStyle: {fontFamily: FONT},
		grid: grids,
		xAxis: xAxes,
		yAxis: yAxes,
		visualMap: vmaps,
		series: series,
		graphic: texts
	});
})();
</script>
</body>
</html>
